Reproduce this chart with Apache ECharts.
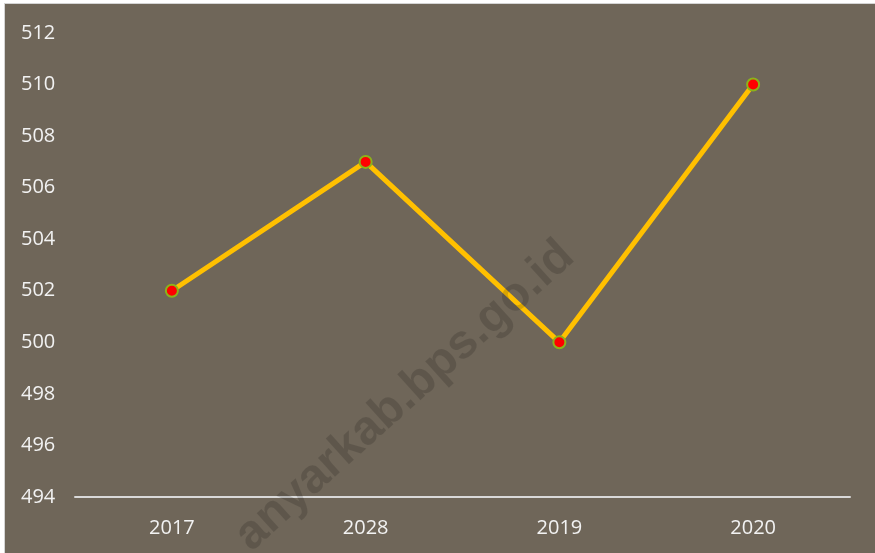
<!DOCTYPE html>
<html>
<head>
<meta charset="utf-8">
<script src="https://cdn.jsdelivr.net/npm/echarts@6/dist/echarts.min.js"></script>
<style>
  body { margin: 0; background: #ffffff; }
  #frame {
    position: absolute;
    left: 4px;
    top: 3px;
    width: 870px;
    height: 549px;
    border-left: 1px solid #d4d4d4;
    border-top: 1px solid #d4d4d4;
  }
  #chart { width: 870px; height: 549px; }
</style>
</head>
<body>
<div id="frame"><div id="chart"></div></div>
<script>
// data
const years = ["2017", "2028", "2019", "2020"];
const values = [502, 507, 500, 510];
const yMin = 494;
const yMax = 512;
const yStep = 2;
const watermark = "anyarkab.bps.go.id";

let myChart = echarts.init(document.getElementById("chart"));

let option = {
  backgroundColor: "#6f6659",
  animation: false,
  grid: {
    left: 70,
    right: 25,
    top: 29,
    bottom: 56
  },
  xAxis: {
    type: "category",
    data: years,
    boundaryGap: true,
    axisLine: { show: true, lineStyle: { color: "#d9d9d9", width: 2 } },
    axisTick: { show: false },
    axisLabel: {
      color: "#f2f2f2",
      fontFamily: "Open Sans",
      fontSize: 20,
      margin: 21
    }
  },
  yAxis: {
    type: "value",
    min: yMin,
    max: yMax,
    interval: yStep,
    axisLine: { show: false },
    axisTick: { show: false },
    splitLine: { show: false },
    axisLabel: {
      color: "#f2f2f2",
      fontFamily: "Open Sans",
      fontSize: 20,
      align: "left",
      margin: 54
    }
  },
  series: [
    {
      name: "nilai",
      type: "line",
      data: values,
      lineStyle: { color: "#ffc000", width: 5 },
      symbol: "circle",
      symbolSize: 12,
      itemStyle: {
        color: "#ff0000",
        borderColor: "#8cb31a",
        borderWidth: 2
      }
    }
  ],
  graphic: [
    {
      type: "text",
      x: 400,
      y: 392,
      rotation: 42 * Math.PI / 180,
      z: 100,
      silent: true,
      style: {
        text: watermark,
        fontFamily: "Liberation Sans",
        fontWeight: "bold",
        fontSize: 48,
        fill: "rgba(0,0,0,0.15)",
        textAlign: "center",
        textVerticalAlign: "middle"
      }
    }
  ]
};

myChart.setOption(option);
</script>
</body>
</html>
